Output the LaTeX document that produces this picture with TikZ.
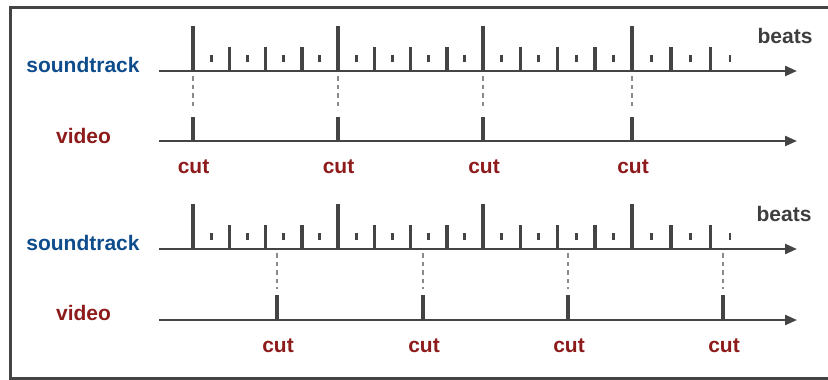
\documentclass[tikz,border=0pt]{standalone}
\usepackage{fontspec}
\setmainfont{Liberation Sans}
\usetikzlibrary{arrows.meta}
\definecolor{inkgray}{HTML}{444444}
\definecolor{dotgray}{HTML}{8A8A8A}
\definecolor{trackblue}{HTML}{0E4C8C}
\definecolor{videored}{HTML}{8E1B1B}
\definecolor{beatgray}{HTML}{3E3E3E}
\tikzset{
  axisline/.style={draw=inkgray, line width=2.3pt, -{Triangle[length=12pt,width=10pt]}},
  bigtick/.style={draw=inkgray, line width=3.5pt},
  smalltick/.style={draw=inkgray, line width=2.8pt},
  syncline/.style={draw=dotgray, line width=2.2pt, dash pattern=on 4.5pt off 4pt},
  lbl/.style={font=\fontsize{21}{23}\selectfont\bfseries, anchor=base, inner sep=0pt},
  tracklbl/.style={lbl, text=trackblue},
  videolbl/.style={lbl, text=videored},
  beatlbl/.style={lbl, text=beatgray},
  frameline/.style={draw=inkgray, line width=2.6pt}
}
% one timeline row: #1 = soundtrack axis y
\newcommand{\beatrow}[1]{%
  \foreach \a/\b in {193/338, 338/483, 483/632}{%
    \pgfmathsetmacro{\d}{(\b-\a)/8}%
    \draw[bigtick] (\a,#1) -- (\a,#1-45);
    \foreach \k in {2,4,6}{\draw[bigtick] (\a+\k*\d,#1) -- (\a+\k*\d,#1-24);}
    \foreach \k in {1,3,5,7}{\draw[smalltick] (\a+\k*\d,#1-9) -- (\a+\k*\d,#1-16);}
  }
  \draw[bigtick] (632,#1) -- (632,#1-45);
  \foreach \k in {2,4}{\draw[bigtick] (632+\k*19.6,#1) -- (632+\k*19.6,#1-24);}
  \foreach \k in {1,3,5}{\draw[smalltick] (632+\k*19.6,#1-9) -- (632+\k*19.6,#1-16);}
}
\begin{document}
\begin{tikzpicture}[x=1pt, y=-1pt]
\useasboundingbox (0,0) rectangle (828,380);
% outer frame (right side runs off the page)
\draw[frameline] (830,7.3) -- (10.3,7.3) -- (10.3,378.5) -- (830,378.5);

% ================= upper panel: cuts on the downbeats =================
\coordinate (s1start) at (159,71);
\coordinate (s1end) at (797,71);
\coordinate (v1start) at (159,141);
\coordinate (v1end) at (797,141);
\beatrow{71}
\draw[axisline] (s1start) -- (s1end);
\draw[axisline] (v1start) -- (v1end);
\foreach \x [count=\i] in {193,338,483,632}{
  \coordinate (ua\i) at (\x,76);
  \coordinate (ub\i) at (\x,110);
  \draw[syncline] (ua\i) -- (ub\i);
  \draw[bigtick] (\x,141) -- (\x,117);
}
\node[tracklbl] (st1) at (83,72.5) {soundtrack};
\node[videolbl] (vd1) at (83.5,143) {video};
\node[beatlbl] (bt1) at (785,43) {beats};
\node[videolbl] (c11) at (193.5,173) {cut};
\node[videolbl] (c12) at (338.5,173) {cut};
\node[videolbl] (c13) at (484,173) {cut};
\node[videolbl] (c14) at (633,173) {cut};

% ================= lower panel: cuts off the downbeats =================
\coordinate (s2start) at (159,249);
\coordinate (s2end) at (797,249);
\coordinate (v2start) at (159,320);
\coordinate (v2end) at (797,320);
\beatrow{249}
\draw[axisline] (s2start) -- (s2end);
\draw[axisline] (v2start) -- (v2end);
\foreach \x [count=\i] in {277,423,568,723}{
  \coordinate (la\i) at (\x,253);
  \coordinate (lb\i) at (\x,289);
  \draw[syncline] (la\i) -- (lb\i);
  \draw[bigtick] (\x,320) -- (\x,295);
}
\node[tracklbl] (st2) at (83,250) {soundtrack};
\node[videolbl] (vd2) at (83.5,320) {video};
\node[beatlbl] (bt2) at (784,221) {beats};
\node[videolbl] (c21) at (278,352) {cut};
\node[videolbl] (c22) at (424,352) {cut};
\node[videolbl] (c23) at (569,352) {cut};
\node[videolbl] (c24) at (724,352) {cut};
\end{tikzpicture}
\end{document}
